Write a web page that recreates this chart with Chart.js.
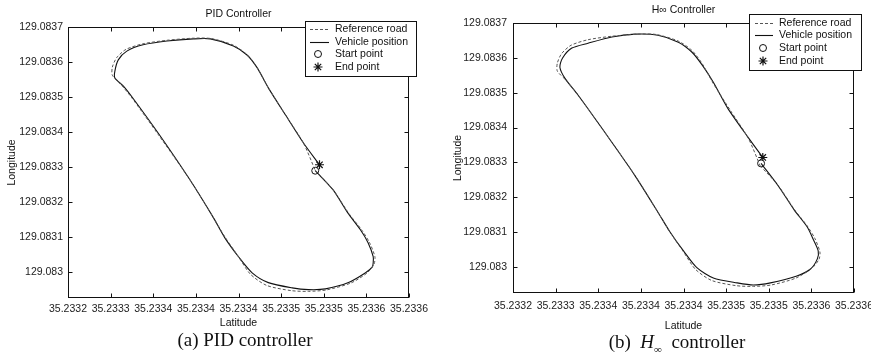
<!DOCTYPE html>
<html>
<head>
<meta charset="utf-8">
<script src="https://cdn.jsdelivr.net/npm/chart.js@4.4.0/dist/chart.umd.min.js"></script>
<style>
  html, body { margin: 0; padding: 0; background: #fff; }
  body { width: 871px; height: 361px; position: relative; overflow: hidden; }
  canvas { position: absolute; top: 0; }
  #pidChart { left: 0; }
  #hinfChart { left: 435px; }
  .caption { position: absolute; font-family: "Liberation Serif", "Times New Roman", serif; font-size: 19px; color: #111; white-space: nowrap; transform: translate(-50%, -50%); }
  .caption sub { font-size: 11px; vertical-align: -5px; }
</style>
</head>
<body>
<canvas id="pidChart" width="435" height="361"></canvas>
<canvas id="hinfChart" width="436" height="361"></canvas>
<div class="caption" style="left:245px; top:340px;">(a) PID controller</div>
<div class="caption" style="left:677px; top:343px;">(b)&nbsp; <i>H</i><sub>∞</sub>&nbsp; controller</div>
<script>
// axis ticks (labels as printed, rounded to 4 decimals)
const xTickValues = [35.2332, 35.23325, 35.2333, 35.23335, 35.2334, 35.23345, 35.2335, 35.23355, 35.2336];
const xTickLabels = ['35.2332', '35.2333', '35.2334', '35.2334', '35.2334', '35.2335', '35.2335', '35.2336', '35.2336'];
const yTickValues = [129.083, 129.0831, 129.0832, 129.0833, 129.0834, 129.0835, 129.0836, 129.0837];
const yTickLabels = ['129.083', '129.0831', '129.0832', '129.0833', '129.0834', '129.0835', '129.0836', '129.0837'];

// reference road (closed loop)
const roadLat = [35.23349, 35.233511, 35.23353, 35.233545, 35.233554, 35.23356, 35.233559, 35.233551, 35.233532, 35.233503, 35.233482, 35.233462, 35.233433, 35.233414, 35.2334, 35.233384, 35.23337, 35.233343, 35.233306, 35.233275, 35.233262, 35.233252, 35.233252, 35.233257, 35.233268, 35.233288, 35.233316, 35.233347, 35.233368, 35.233394, 35.23341, 35.233422, 35.233435, 35.233455, 35.233476, 35.23349];
const roadLon = [129.08329, 129.083234, 129.083165, 129.083118, 129.083082, 129.083043, 129.083022, 129.082997, 129.082968, 129.082948, 129.082944, 129.082946, 129.082961, 129.082993, 129.083043, 129.0831, 129.083157, 129.083263, 129.083392, 129.083497, 129.083536, 129.083562, 129.083585, 129.083612, 129.083636, 129.083652, 129.083662, 129.083668, 129.083667, 129.083648, 129.083621, 129.083583, 129.083526, 129.083449, 129.083369, 129.08329];

// vehicle track, PID controller (first = start, last = end)
const pidLat = [35.23349, 35.233511, 35.233528, 35.233543, 35.233552, 35.233558, 35.233558, 35.233557, 35.233549, 35.233529, 35.233502, 35.233482, 35.233463, 35.233435, 35.233416, 35.2334, 35.233384, 35.23337, 35.233343, 35.233308, 35.233276, 35.233265, 35.233255, 35.233255, 35.233259, 35.233269, 35.233288, 35.233316, 35.233347, 35.233367, 35.233394, 35.23341, 35.233422, 35.233435, 35.233455, 35.233476, 35.233495];
const pidLon = [129.083289, 129.083234, 129.083169, 129.08312, 129.083083, 129.083043, 129.083026, 129.083014, 129.082997, 129.082969, 129.082951, 129.082949, 129.082954, 129.082969, 129.082997, 129.083043, 129.083097, 129.083157, 129.083263, 129.083389, 129.083497, 129.083531, 129.083554, 129.083574, 129.083606, 129.083631, 129.083649, 129.08366, 129.083666, 129.083666, 129.083646, 129.08362, 129.083583, 129.083526, 129.083449, 129.083369, 129.083306];

// vehicle track, H-infinity controller
const hinfLat = [35.233491, 35.233511, 35.23353, 35.233545, 35.233552, 35.233558, 35.233557, 35.233549, 35.233533, 35.233502, 35.233482, 35.233463, 35.233435, 35.233416, 35.2334, 35.233384, 35.23337, 35.233343, 35.233306, 35.233276, 35.233261, 35.233255, 35.233258, 35.233269, 35.233288, 35.233316, 35.233343, 35.23337, 35.233394, 35.23341, 35.233422, 35.233435, 35.233452, 35.233476, 35.233493];
const hinfLon = [129.083297, 129.083233, 129.083163, 129.083115, 129.08308, 129.083046, 129.083023, 129.082994, 129.082974, 129.082954, 129.082948, 129.082954, 129.082968, 129.082997, 129.083046, 129.083101, 129.083157, 129.083262, 129.083392, 129.083494, 129.083541, 129.083573, 129.083599, 129.083628, 129.083642, 129.08366, 129.083668, 129.083665, 129.083645, 129.083616, 129.083579, 129.08353, 129.083455, 129.083371, 129.083314];

const FONT = '"Liberation Sans", Arial, Helvetica, sans-serif';
const INK = '#111';

function toPoints(lat, lon) {
  return lat.map((v, i) => ({ x: v, y: lon[i] }));
}

// box around the plot area with inward tick marks on all four sides
const axesFrame = {
  id: 'axesFrame',
  afterDatasetsDraw(chart) {
    const { ctx, chartArea: a, scales: { x, y } } = chart;
    const L = Math.round(a.left) + 0.5, R = Math.round(a.right) - 0.5;
    const T = Math.round(a.top) + 0.5, B = Math.round(a.bottom) - 0.5;
    ctx.save();
    ctx.strokeStyle = INK;
    ctx.lineWidth = 1;
    ctx.strokeRect(L, T, R - L, B - T);
    ctx.beginPath();
    x.ticks.forEach(t => {
      const px = Math.round(x.getPixelForValue(t.value)) + 0.5;
      ctx.moveTo(px, B); ctx.lineTo(px, B - 4);
      ctx.moveTo(px, T); ctx.lineTo(px, T + 4);
    });
    y.ticks.forEach(t => {
      const py = Math.round(y.getPixelForValue(t.value)) + 0.5;
      ctx.moveTo(L, py); ctx.lineTo(L + 4, py);
      ctx.moveTo(R, py); ctx.lineTo(R - 4, py);
    });
    ctx.stroke();
    ctx.restore();
  }
};

// boxed legend in the upper right corner
const boxLegend = {
  id: 'boxLegend',
  afterDraw(chart, args, o) {
    const ctx = chart.ctx;
    ctx.save();
    ctx.fillStyle = '#fff';
    ctx.fillRect(o.x, o.y, o.w, o.h);
    ctx.strokeStyle = INK;
    ctx.lineWidth = 1;
    ctx.strokeRect(o.x + 0.5, o.y + 0.5, o.w, o.h);
    ctx.font = '10.5px ' + FONT;
    ctx.textBaseline = 'middle';
    chart.data.datasets.forEach((ds, i) => {
      const y = o.rows[i];
      ctx.strokeStyle = ds.borderColor;
      ctx.lineWidth = ds.borderWidth;
      if (ds.showLine) {
        ctx.setLineDash(ds.borderDash || []);
        ctx.beginPath();
        ctx.moveTo(o.lineX0, y + 0.5);
        ctx.lineTo(o.lineX1, y + 0.5);
        ctx.stroke();
        ctx.setLineDash([]);
      } else {
        ctx.fillStyle = ds.backgroundColor;
        Chart.helpers.drawPoint(ctx, { pointStyle: ds.pointStyle, radius: ds.pointRadius, borderWidth: ds.borderWidth, rotation: 0 }, o.markX, y);
      }
      ctx.fillStyle = INK;
      ctx.fillText(ds.label, o.textX, y);
    });
    ctx.restore();
  }
};

function makeChart(id, title, lat, lon, p) {
  const track = toPoints(lat, lon);
  return new Chart(document.getElementById(id), {
    type: 'scatter',
    data: {
      datasets: [
        { label: 'Reference road', data: toPoints(roadLat, roadLon), showLine: true, borderColor: '#555', borderWidth: 1, borderDash: [3, 2], pointRadius: 0, tension: 0.25 },
        { label: 'Vehicle position', data: track, showLine: true, borderColor: INK, borderWidth: 1.1, pointRadius: 0, tension: 0.25 },
        { label: 'Start point', data: [track[0]], showLine: false, pointStyle: 'circle', pointRadius: 3.5, borderColor: INK, backgroundColor: '#fff', borderWidth: 1 },
        { label: 'End point', data: [track[track.length - 1]], showLine: false, pointStyle: 'star', pointRadius: 4.5, borderColor: INK, backgroundColor: INK, borderWidth: 1.2 }
      ]
    },
    options: {
      responsive: false,
      animation: false,
      devicePixelRatio: 1,
      layout: { autoPadding: false, padding: { left: 0, right: p.padRight, top: 0, bottom: p.padBottom } },
      plugins: {
        legend: { display: false },
        tooltip: { enabled: false },
        title: { display: true, fullSize: false, text: title, color: INK, font: { family: FONT, size: 10.5, weight: 'normal' }, padding: { top: p.titleTop, bottom: p.titleBottom } },
        boxLegend: p.legend
      },
      scales: {
        x: {
          type: 'linear', min: 35.2332, max: 35.2336,
          afterBuildTicks: s => { s.ticks = xTickValues.map(v => ({ value: v })); },
          afterFit: s => { s.height = p.xHeight; s.paddingLeft = 0; s.paddingRight = 0; },
          grid: { display: false, drawTicks: false }, border: { display: false },
          ticks: { autoSkip: false, maxRotation: 0, minRotation: 0, padding: p.xTickPad, color: '#222', font: { family: FONT, size: 10.5 }, callback: (v, i) => xTickLabels[i] },
          title: { display: true, text: 'Latitude', color: INK, font: { family: FONT, size: 10.5 }, padding: { top: 2, bottom: 2 } }
        },
        y: {
          type: 'linear', min: 129.082925, max: 129.0837,
          afterBuildTicks: s => { s.ticks = yTickValues.map(v => ({ value: v })); },
          afterFit: s => { s.width = p.yWidth; s.paddingTop = 0; s.paddingBottom = 0; },
          grid: { display: false, drawTicks: false }, border: { display: false },
          ticks: { autoSkip: false, padding: p.yTickPad, color: '#222', font: { family: FONT, size: 10.5 }, callback: (v, i) => yTickLabels[i] },
          title: { display: true, text: 'Longitude', color: INK, font: { family: FONT, size: 10.5 }, padding: { top: p.yTitlePad, bottom: 0 } }
        }
      }
    },
    plugins: [axesFrame, boxLegend]
  });
}

makeChart('pidChart', 'PID Controller', pidLat, pidLon, {
  padRight: 26, padBottom: 29.7, titleTop: 8.3, titleBottom: 6.1,
  xHeight: 33.3, xTickPad: 5, yWidth: 68, yTickPad: 5, yTitlePad: 5.7,
  legend: { x: 305, y: 21, w: 111, h: 55, rows: [29, 42, 54, 67], lineX0: 310, lineX1: 329, markX: 318, textX: 335 }
});

makeChart('hinfChart', 'H\u221E Controller', hinfLat, hinfLon, {
  padRight: 17, padBottom: 26.7, titleTop: 4.2, titleBottom: 6.2,
  xHeight: 41.3, xTickPad: 6.5, yWidth: 78, yTickPad: 6, yTitlePad: 17,
  legend: { x: 314, y: 14, w: 112, h: 56, rows: [23, 35, 48, 61], lineX0: 320, lineX1: 338, markX: 328, textX: 344 }
});
</script>
</body>
</html>
